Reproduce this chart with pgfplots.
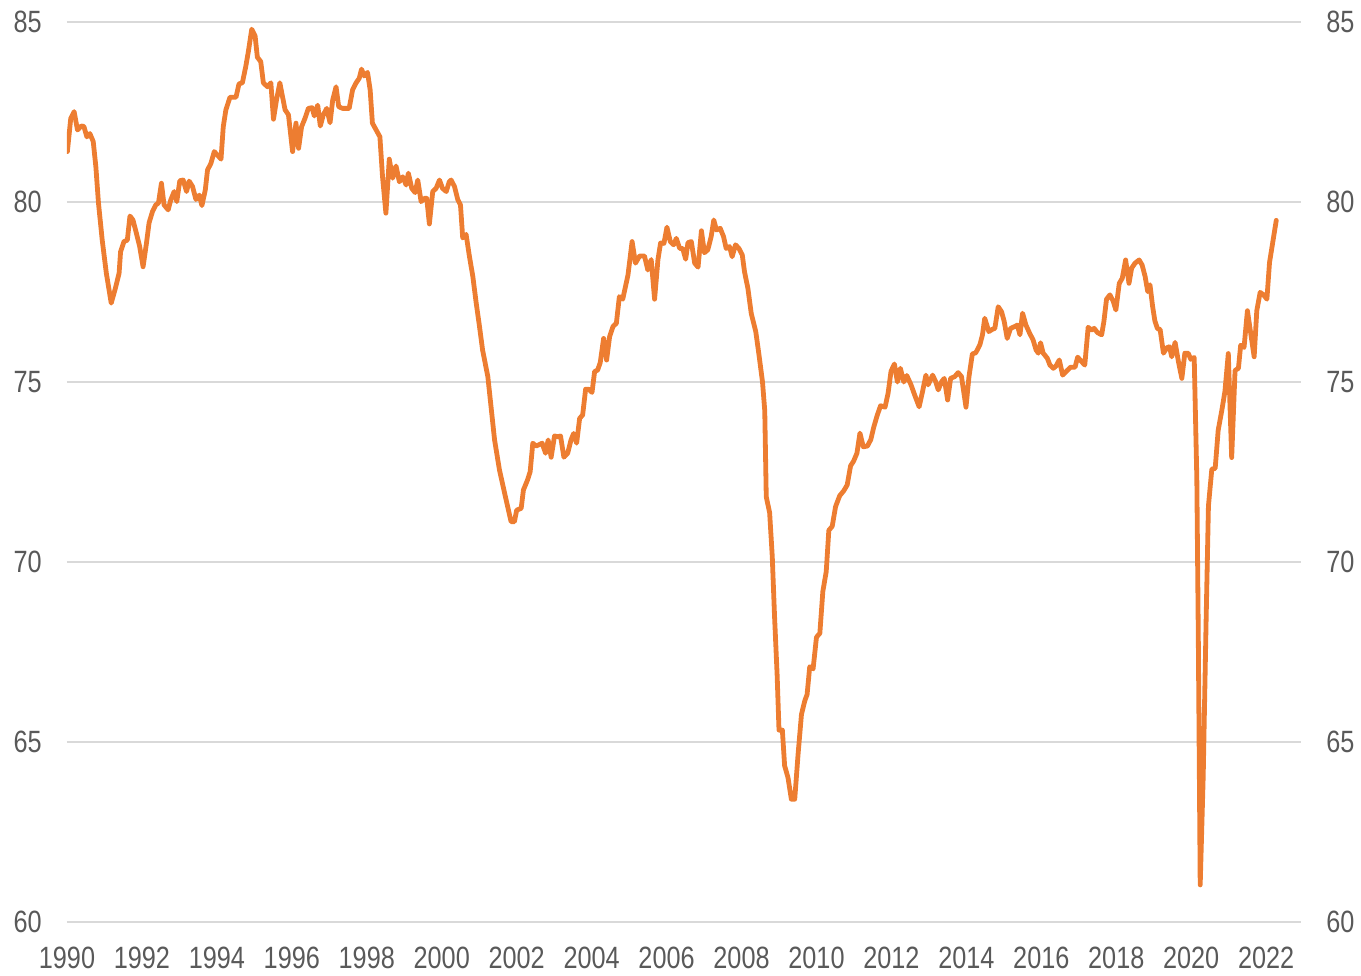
\documentclass[border=0pt]{standalone}
\usepackage{fontspec}
\setmainfont[FakeStretch=0.82]{Liberation Sans}
\usepackage{pgfplots}
\pgfplotsset{compat=1.18}
\definecolor{lineorange}{HTML}{ED7D31}
\definecolor{labelgray}{HTML}{595959}
\definecolor{gridgray}{HTML}{D9D9D9}
\begin{document}
\begin{tikzpicture}
\pgfplotsset{
  base/.style={
    scale only axis, width=617pt, height=450pt,
    xmin=1990, xmax=2022.93, ymin=60, ymax=85,
    axis line style={draw=none},
    major tick length=0pt,
    ytick={60,65,70,75,80,85},
    xtick={1990,1992,...,2022},
    /pgf/number format/assume math mode=true,
    /pgf/number format/1000 sep={},
    tick label style={font=\fontsize{15.4pt}{18pt}\selectfont, text=labelgray, inner sep=0pt},
    yticklabel shift=12.5pt,
    xticklabel shift=12.5pt,
  }
}
\begin{axis}[base,
  ymajorgrids, grid style={gridgray, line width=0.75pt},
  yticklabel pos=left]
\coordinate (SW) at (rel axis cs:0,0);
\coordinate (NE) at (rel axis cs:1,1);
\addplot[lineorange, line width=2.4pt, line join=round, line cap=round] table {
x y
1990.01 81.40
1990.10 82.32
1990.19 82.51
1990.28 82.00
1990.38 82.11
1990.45 82.10
1990.53 81.81
1990.61 81.90
1990.70 81.68
1990.77 80.98
1990.84 79.97
1990.94 78.94
1991.05 78.02
1991.18 77.19
1991.28 77.56
1991.39 78.02
1991.43 78.62
1991.52 78.90
1991.61 78.94
1991.68 79.61
1991.76 79.50
1991.85 79.14
1991.94 78.76
1992.03 78.20
1992.12 78.85
1992.19 79.42
1992.28 79.73
1992.37 79.92
1992.44 79.97
1992.52 80.52
1992.59 79.92
1992.70 79.78
1992.77 80.06
1992.86 80.29
1992.93 80.01
1993.01 80.59
1993.10 80.61
1993.19 80.29
1993.26 80.58
1993.35 80.43
1993.44 80.07
1993.53 80.19
1993.60 79.90
1993.69 80.33
1993.75 80.89
1993.84 81.07
1993.93 81.40
1994.01 81.31
1994.11 81.19
1994.17 82.09
1994.24 82.56
1994.35 82.91
1994.51 82.91
1994.59 83.28
1994.68 83.31
1994.77 83.76
1994.84 84.18
1994.93 84.80
1995.02 84.61
1995.08 84.02
1995.17 83.90
1995.24 83.31
1995.35 83.20
1995.44 83.31
1995.51 82.30
1995.59 82.83
1995.68 83.31
1995.75 82.93
1995.82 82.56
1995.91 82.42
1996.02 81.40
1996.11 82.19
1996.18 81.49
1996.26 82.09
1996.35 82.32
1996.44 82.60
1996.54 82.62
1996.60 82.39
1996.69 82.69
1996.76 82.11
1996.84 82.42
1996.93 82.60
1997.02 82.20
1997.09 82.83
1997.18 83.20
1997.25 82.65
1997.35 82.60
1997.53 82.60
1997.62 83.11
1997.71 83.30
1997.80 83.44
1997.86 83.69
1997.93 83.50
1998.02 83.60
1998.09 83.11
1998.15 82.19
1998.25 82.00
1998.35 81.81
1998.42 80.70
1998.51 79.69
1998.60 81.19
1998.69 80.66
1998.78 81.00
1998.87 80.56
1998.96 80.70
1999.05 80.47
1999.11 80.80
1999.20 80.38
1999.29 80.26
1999.36 80.61
1999.45 80.01
1999.54 80.10
1999.60 80.10
1999.67 79.39
1999.76 80.29
1999.85 80.38
1999.94 80.61
2000.02 80.38
2000.12 80.29
2000.20 80.56
2000.25 80.61
2000.34 80.43
2000.43 80.06
2000.50 79.92
2000.56 79.00
2000.65 79.10
2000.74 78.48
2000.83 77.93
2000.92 77.19
2001.00 76.60
2001.09 75.89
2001.23 75.15
2001.41 73.39
2001.54 72.56
2001.70 71.81
2001.85 71.12
2001.94 71.12
2002.00 71.44
2002.12 71.49
2002.18 72.00
2002.29 72.28
2002.36 72.51
2002.43 73.30
2002.52 73.22
2002.68 73.30
2002.77 73.02
2002.84 73.39
2002.92 72.91
2003.01 73.50
2003.10 73.48
2003.17 73.50
2003.26 72.91
2003.36 73.02
2003.45 73.39
2003.52 73.57
2003.60 73.30
2003.68 73.99
2003.76 74.08
2003.84 74.80
2003.92 74.80
2004.01 74.71
2004.08 75.29
2004.16 75.33
2004.23 75.54
2004.32 76.21
2004.40 75.61
2004.48 76.26
2004.57 76.54
2004.66 76.63
2004.74 77.37
2004.83 77.30
2004.97 77.97
2005.08 78.90
2005.17 78.30
2005.28 78.50
2005.41 78.50
2005.50 78.11
2005.59 78.40
2005.68 77.30
2005.77 78.40
2005.84 78.86
2005.93 78.85
2006.01 79.30
2006.10 78.90
2006.19 78.81
2006.26 78.99
2006.35 78.71
2006.43 78.71
2006.51 78.41
2006.57 78.87
2006.66 78.90
2006.75 78.30
2006.84 78.19
2006.93 79.20
2007.01 78.59
2007.10 78.67
2007.19 79.04
2007.26 79.50
2007.33 79.22
2007.43 79.27
2007.52 79.04
2007.59 78.71
2007.68 78.76
2007.75 78.48
2007.84 78.81
2007.93 78.71
2008.02 78.53
2008.08 78.06
2008.17 77.60
2008.26 76.90
2008.38 76.40
2008.46 75.80
2008.56 75.00
2008.62 74.20
2008.66 71.81
2008.75 71.37
2008.82 70.16
2008.88 68.52
2008.95 66.87
2009.00 65.33
2009.09 65.33
2009.15 64.34
2009.24 64.01
2009.33 63.41
2009.42 63.41
2009.51 64.67
2009.60 65.77
2009.69 66.15
2009.75 66.32
2009.82 67.09
2009.91 67.03
2010.00 67.91
2010.09 68.02
2010.17 69.18
2010.26 69.73
2010.33 70.88
2010.42 70.99
2010.51 71.54
2010.62 71.84
2010.73 71.98
2010.82 72.14
2010.91 72.67
2010.99 72.80
2011.08 73.02
2011.16 73.58
2011.25 73.20
2011.36 73.22
2011.45 73.40
2011.53 73.75
2011.62 74.07
2011.71 74.34
2011.83 74.30
2011.91 74.68
2011.99 75.30
2012.08 75.50
2012.16 75.00
2012.24 75.38
2012.33 75.00
2012.41 75.18
2012.52 74.93
2012.62 74.64
2012.74 74.31
2012.83 74.73
2012.92 75.19
2012.98 74.92
2013.10 75.19
2013.18 75.01
2013.25 74.78
2013.34 75.01
2013.41 75.10
2013.50 74.50
2013.58 75.10
2013.69 75.15
2013.78 75.26
2013.87 75.15
2013.99 74.30
2014.07 75.15
2014.16 75.78
2014.25 75.81
2014.36 76.03
2014.43 76.31
2014.49 76.77
2014.60 76.40
2014.69 76.46
2014.76 76.49
2014.85 77.09
2014.94 76.95
2015.01 76.68
2015.09 76.21
2015.18 76.49
2015.29 76.54
2015.36 76.58
2015.43 76.31
2015.50 76.91
2015.59 76.58
2015.69 76.35
2015.78 76.17
2015.86 75.89
2015.92 75.80
2015.98 76.09
2016.05 75.80
2016.16 75.66
2016.23 75.47
2016.32 75.38
2016.39 75.44
2016.48 75.61
2016.57 75.19
2016.68 75.31
2016.78 75.41
2016.90 75.41
2016.97 75.69
2017.08 75.56
2017.16 75.47
2017.25 76.52
2017.34 76.44
2017.41 76.49
2017.50 76.37
2017.61 76.31
2017.67 76.68
2017.74 77.30
2017.83 77.42
2017.92 77.24
2017.99 77.00
2018.08 77.74
2018.16 77.88
2018.25 78.39
2018.34 77.74
2018.41 78.16
2018.50 78.30
2018.61 78.39
2018.69 78.25
2018.77 77.93
2018.84 77.51
2018.90 77.70
2018.97 77.10
2019.03 76.70
2019.10 76.48
2019.17 76.46
2019.26 75.80
2019.35 75.95
2019.42 75.98
2019.48 75.70
2019.57 76.10
2019.66 75.56
2019.75 75.10
2019.83 75.80
2019.92 75.80
2019.99 75.63
2020.08 75.68
2020.15 72.32
2020.19 67.86
2020.24 61.03
2020.32 64.03
2020.40 68.49
2020.46 71.56
2020.55 72.58
2020.64 72.60
2020.72 73.66
2020.82 74.23
2020.90 74.74
2020.99 75.79
2021.08 72.90
2021.17 75.32
2021.26 75.38
2021.32 76.02
2021.41 75.96
2021.50 76.98
2021.59 76.34
2021.68 75.70
2021.75 76.98
2021.84 77.49
2021.93 77.42
2022.02 77.30
2022.09 78.32
2022.27 79.49
};
\end{axis}
\begin{axis}[base, yticklabel pos=right, xticklabels={}]
\addplot[draw=none] coordinates {(1990,60)};
\end{axis}
\path[use as bounding box] ([xshift=-33.5pt,yshift=-27pt]SW) rectangle ([xshift=30pt,yshift=11pt]NE);
\end{tikzpicture}
\end{document}
